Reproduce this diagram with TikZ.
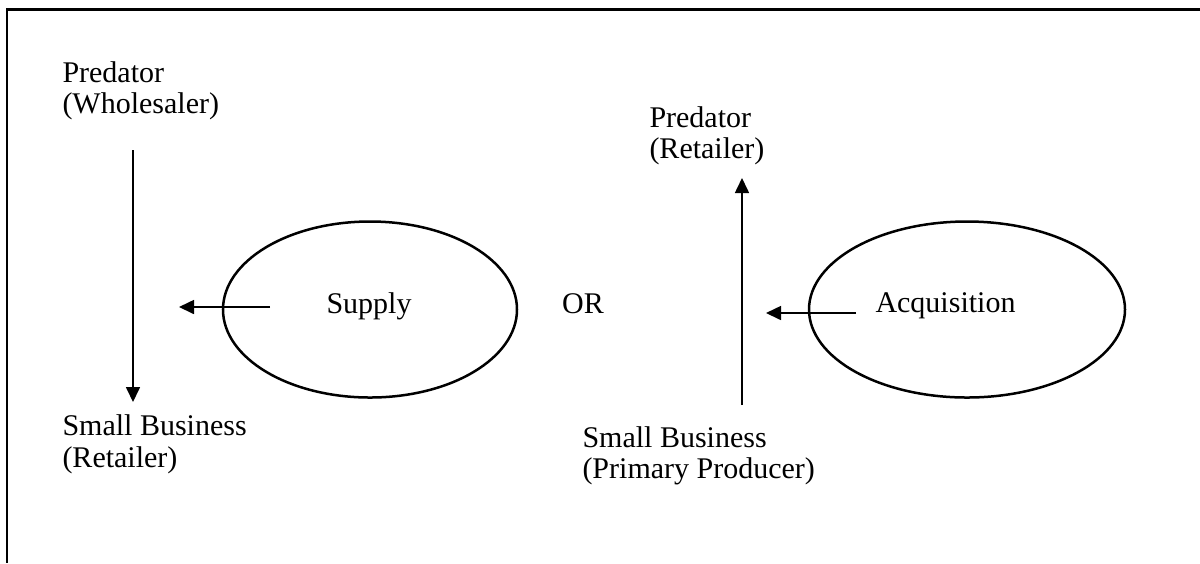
\documentclass[tikz,border=0pt]{standalone}
\usepackage{fontspec}
\setmainfont{Liberation Serif}
\usetikzlibrary{arrows.meta,shapes.geometric}
\begin{document}
\begin{tikzpicture}[x=0.4pt,y=-0.4pt,
  lbl/.style={inner sep=0pt, align=left, anchor=north west, font=\fontsize{12}{12.6}\selectfont},
  word/.style={inner sep=0pt, anchor=base west, font=\fontsize{12}{12.6}\selectfont},
  oval/.style={ellipse, draw, line width=1pt, inner sep=0pt},
  conn/.style={line width=0.65pt, -{Triangle[length=6pt,width=5.6pt]}},
  frame/.style={line width=1pt}]
\useasboundingbox (0,0) rectangle (1200,563);
\draw[frame] (1200,9.5) -- (7,9.5) -- (7,563);

% ellipses
\node[oval, minimum width=117.6pt, minimum height=70.4pt] (e1) at (370,309.5) {};
\node[oval, minimum width=126.4pt, minimum height=70.4pt] (e2) at (967,309.5) {};

% labels
\node[lbl] (pw) at (62,61) {Predator\\(Wholesaler)};
\node[lbl] (sbr) at (62,414.5) {Small Business\\(Retailer)};
\node[lbl] (pr) at (649,106) {Predator\\(Retailer)};
\node[lbl] (sbp) at (582,426) {Small Business\\(Primary Producer)};
\node[word] (sup) at (326,313) {Supply};
\node[word] (acq) at (875,312) {Acquisition};
\node[word, anchor=base] (or) at (583,313) {OR};

% connector ends
\coordinate (a1s) at (133,150);
\coordinate (a1e) at (133,402);
\coordinate (a2s) at (270,307);
\coordinate (a2e) at (179,307);
\coordinate (a3s) at (742,405);
\coordinate (a3e) at (742,178);
\coordinate (a4s) at (856,313);
\coordinate (a4e) at (766,313);

\draw[conn] (a1s) -- (a1e);
\draw[conn] (a2s) -- (a2e);
\draw[conn] (a3s) -- (a3e);
\draw[conn] (a4s) -- (a4e);
\end{tikzpicture}
\end{document}
